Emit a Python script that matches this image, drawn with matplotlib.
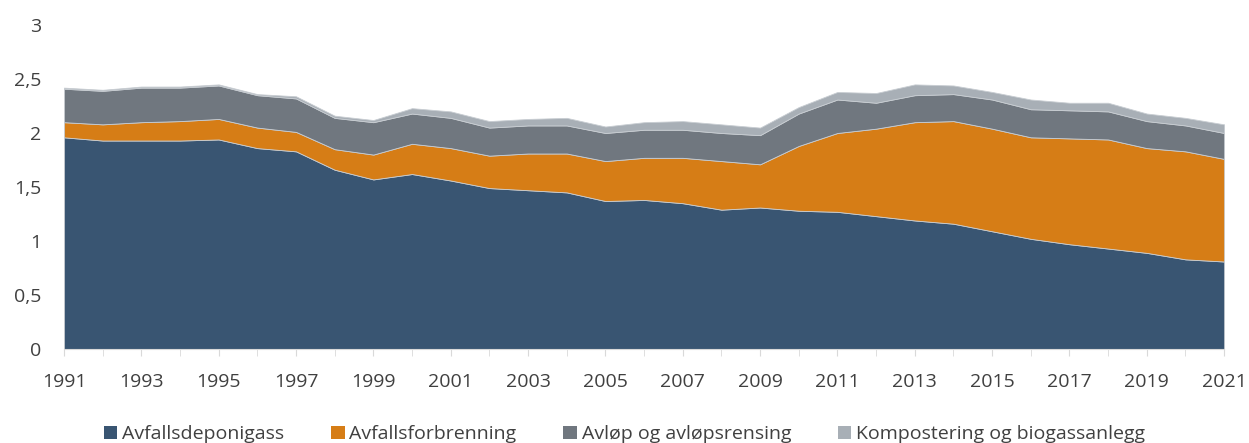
import numpy as np
import matplotlib
matplotlib.use("Agg")
import matplotlib.pyplot as plt
from matplotlib.patches import Patch

# Data (millioner tonn CO2-ekv.)
aar = list(range(1991, 2022))
deponigass = [1.96, 1.93, 1.93, 1.93, 1.94, 1.86, 1.83, 1.66, 1.57, 1.62,
              1.56, 1.49, 1.47, 1.45, 1.37, 1.38, 1.35, 1.29, 1.31, 1.28,
              1.27, 1.23, 1.19, 1.16, 1.09, 1.02, 0.97, 0.93, 0.89, 0.83, 0.81]
forbrenning = [0.14, 0.15, 0.17, 0.18, 0.19, 0.19, 0.18, 0.19, 0.23, 0.28,
               0.30, 0.30, 0.34, 0.36, 0.37, 0.39, 0.42, 0.45, 0.40, 0.60,
               0.73, 0.81, 0.91, 0.95, 0.95, 0.94, 0.98, 1.01, 0.97, 1.00, 0.95]
avlop = [0.31, 0.31, 0.32, 0.31, 0.31, 0.30, 0.31, 0.29, 0.30, 0.28,
         0.28, 0.26, 0.26, 0.26, 0.26, 0.26, 0.26, 0.26, 0.27, 0.30,
         0.31, 0.24, 0.25, 0.25, 0.27, 0.26, 0.26, 0.26, 0.25, 0.24, 0.24]
kompost = [0.01, 0.01, 0.01, 0.01, 0.01, 0.01, 0.02, 0.02, 0.02, 0.05,
           0.06, 0.06, 0.06, 0.07, 0.06, 0.07, 0.08, 0.08, 0.07, 0.06,
           0.07, 0.09, 0.10, 0.08, 0.07, 0.09, 0.07, 0.08, 0.07, 0.07, 0.08]

navn = ["Avfallsdeponigass", "Avfallsforbrenning", "Avløp og avløpsrensing",
        "Kompostering og biogassanlegg"]
farger = ["#395572", "#D67D16", "#70777F", "#A8AFB6"]

plt.rcParams['font.family'] = ['Open Sans', 'DejaVu Sans']

fig = plt.figure(figsize=(12.49, 4.43), dpi=100)
ax = fig.add_axes([0.0512, 0.2122, 0.9289, 0.7314])

ax.stackplot(aar, deponigass, forbrenning, avlop, kompost,
             colors=farger, edgecolor="#C8CDD2", linewidth=0.6)

ax.set_xlim(1991, 2021)
ax.set_ylim(0, 3)
ax.set_xticks(aar, minor=True)
ax.set_xticks(aar[::2])
ax.set_yticks(np.arange(0, 3.01, 0.5))
ax.set_yticklabels(["0", "0,5", "1", "1,5", "2", "2,5", "3"])

for s in ["top", "right", "left"]:
    ax.spines[s].set_visible(False)
ax.spines["bottom"].set_color("#D9D9D9")
ax.tick_params(axis="y", length=0, pad=16.5, labelsize=14, colors="#404040")
ax.tick_params(axis="x", which="both", length=5, color="#D9D9D9",
               labelsize=14, labelcolor="#404040", pad=12)

handles = [Patch(facecolor=c, label=n) for c, n in zip(farger, navn)]
fig.legend(handles=handles, loc="lower center", ncol=4, frameon=False,
           bbox_to_anchor=(0.5, -0.04), fontsize=14, handlelength=0.7,
           handleheight=0.7, handletextpad=0.25, columnspacing=2.4,
           labelcolor="#404040")

fig.savefig("out.png", dpi=100)
